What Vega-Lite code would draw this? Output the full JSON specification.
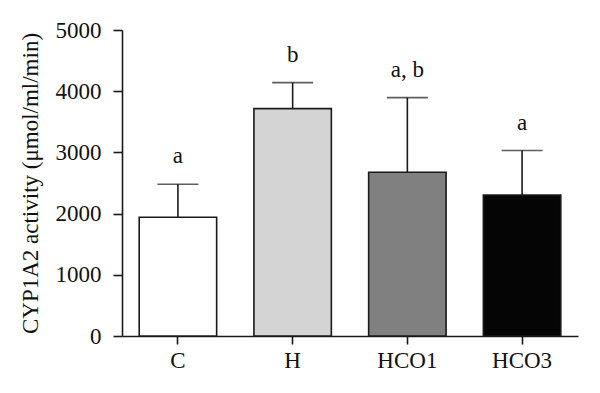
{
  "$schema": "https://vega.github.io/schema/vega-lite/v6.json",
  "width": 456,
  "height": 306,
  "autosize": {"type": "none"},
  "padding": {"left": 122, "top": 30, "right": 22, "bottom": 57},
  "background": "white",
  "config": {
    "view": {"stroke": null},
    "font": "Liberation Serif",
    "axis": {
      "grid": false,
      "domainColor": "#1a1a1a",
      "domainWidth": 1.6,
      "tickColor": "#1a1a1a",
      "tickWidth": 1.6,
      "labelColor": "#111",
      "titleColor": "#111",
      "labelFont": "Liberation Serif",
      "titleFont": "Liberation Serif",
      "labelFontSize": 23,
      "titleFontSize": 23,
      "titleFontWeight": "normal"
    }
  },
  "data": {
    "values": [
      {"group": "C", "mean": 1940, "err": 2480, "label": "a", "color": "#ffffff"},
      {"group": "H", "mean": 3715, "err": 4140, "label": "b", "color": "#d4d4d4"},
      {"group": "HCO1", "mean": 2675, "err": 3895, "label": "a, b", "color": "#808080"},
      {"group": "HCO3", "mean": 2305, "err": 3030, "label": "a", "color": "#050505"}
    ]
  },
  "encoding": {
    "x": {
      "field": "group",
      "type": "nominal",
      "sort": null,
      "scale": {"paddingInner": 0.325, "paddingOuter": 0.15},
      "axis": {"title": null, "labelAngle": 0, "tickSize": 8, "labelPadding": 5}
    }
  },
  "layer": [
    {
      "mark": {"type": "rule", "stroke": "#1a1a1a", "strokeWidth": 1.6},
      "encoding": {
        "y": {"field": "mean", "type": "quantitative"},
        "y2": {"field": "err"}
      }
    },
    {
      "mark": {"type": "tick", "color": "#1a1a1a", "size": 41, "thickness": 1.6, "orient": "horizontal"},
      "encoding": {
        "y": {"field": "err", "type": "quantitative"}
      }
    },
    {
      "mark": {"type": "bar", "stroke": "#1a1a1a", "strokeWidth": 1.6},
      "encoding": {
        "y": {
          "field": "mean",
          "type": "quantitative",
          "scale": {"domain": [0, 5000], "nice": false},
          "axis": {
            "title": "CYP1A2 activity (μmol/ml/min)",
            "values": [0, 1000, 2000, 3000, 4000, 5000],
            "format": "d",
            "tickSize": 9,
            "labelPadding": 12,
            "titlePadding": 13
          }
        },
        "fill": {"field": "color", "type": "nominal", "scale": null}
      }
    },
    {
      "mark": {"type": "text", "font": "Liberation Serif", "fontSize": 23, "color": "#111", "baseline": "alphabetic", "dy": -21},
      "encoding": {
        "y": {"field": "err", "type": "quantitative"},
        "text": {"field": "label"}
      }
    }
  ]
}
